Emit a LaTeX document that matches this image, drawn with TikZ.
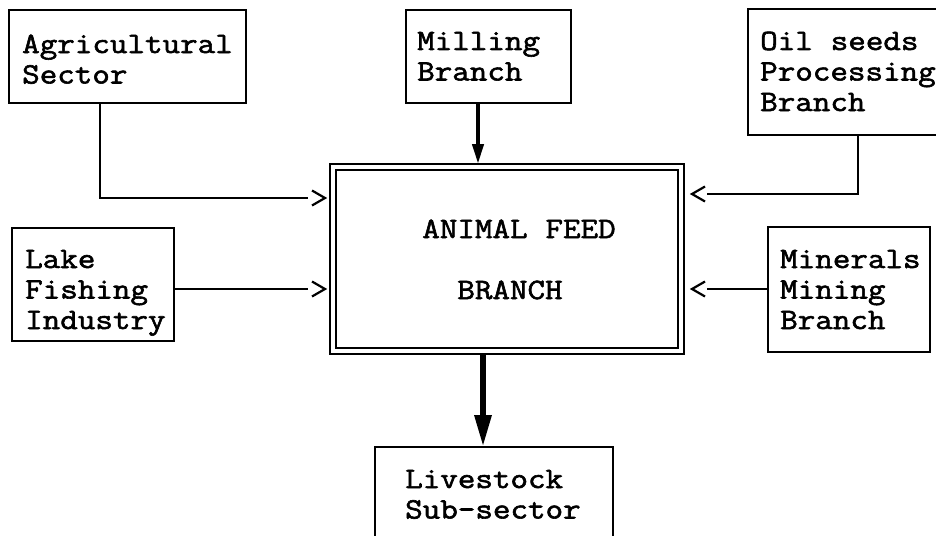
\documentclass[tikz,border=0pt]{standalone}
\usepackage{fontspec}
\newfontfamily\tw[FakeBold=2,FakeStretch=1.155]{Latin Modern Mono}
\usetikzlibrary{arrows.meta,calc}
\begin{document}
\begin{tikzpicture}[x=1pt,y=-1pt,
  box/.style={draw,line width=2pt,rectangle,inner sep=0pt,outer sep=0pt,anchor=north west},
  txt/.style={font=\tw\fontsize{29.5}{30.5}\selectfont,execute at begin node={\spaceskip=17.9pt\relax},inner sep=0pt,anchor=base west,text width=300pt,align=left},
  ctxt/.style={font=\tw\fontsize{29.5}{30.5}\selectfont,execute at begin node={\spaceskip=17.9pt\relax},inner sep=0pt,anchor=base},
  conn/.style={line width=2pt},
  chev/.style={line width=2.2pt,line join=miter},
  thickarrow/.style={line width=4pt,-{Triangle[length=20pt,width=11pt]}},
  bigarrow/.style={line width=6pt,-{Triangle[length=32pt,width=16pt]}}]
\useasboundingbox (0,0) rectangle (936,535);
\clip (0,0) rectangle (936,535);
% boxes
\node[box,minimum width=237pt,minimum height=93pt] (agri) at (9,10) {};
\node[box,minimum width=165pt,minimum height=93pt] (mill) at (406,10) {};
\node[box,minimum width=212pt,minimum height=126pt] (oil) at (748,9) {};
\node[box,minimum width=162pt,minimum height=113pt] (lake) at (12,228) {};
\node[box,minimum width=162pt,minimum height=125pt] (mine) at (768,227) {};
\node[box,minimum width=238pt,minimum height=113pt] (live) at (375,447) {};
\node[box,double,double distance=4pt,minimum width=348pt,minimum height=184pt] (cb) at (333,167) {};
% texts
\node[txt] (agrit) at (22,53) {Agricultural\\Sector};
\node[txt] (millt) at (417,50) {Milling\\Branch};
\node[txt] (oilt) at (760,50) {Oil seeds\\Processing\\Branch};
\node[txt] (laket) at (25,268) {Lake\\Fishing\\Industry};
\node[txt] (minet) at (780,268) {Minerals\\Mining\\Branch};
\node[txt] (livet) at (405,488) {Livestock\\Sub-sector};
\node[ctxt] (cbt1) at (519,238) {ANIMAL FEED};
\node[ctxt] (cbt2) at (510,299) {BRANCH};
% helper coordinates
\coordinate (agrij) at (100,198);
\coordinate (oilj) at (858,194);
\coordinate (midy) at (0,289);
\coordinate (millx) at (478,0);
\coordinate (livex) at (483,0);
% connectors
\draw[conn] (agri.south -| agrij) |- ($(cb.west |- agrij)+(-25,0)$);
\draw[chev] ($(cb.west |- agrij)+(-21,-7.5)$) -- ($(cb.west |- agrij)+(-8,0)$) -- ($(cb.west |- agrij)+(-21,7.5)$);
\draw[conn] (lake.east |- midy) -- ($(cb.west |- midy)+(-25,0)$);
\draw[chev] ($(cb.west |- midy)+(-21,-7.5)$) -- ($(cb.west |- midy)+(-8,0)$) -- ($(cb.west |- midy)+(-21,7.5)$);
\draw[conn] (oil.south -| oilj) |- ($(cb.east |- oilj)+(26,0)$);
\draw[chev] ($(cb.east |- oilj)+(24,-7.5)$) -- ($(cb.east |- oilj)+(11,0)$) -- ($(cb.east |- oilj)+(24,7.5)$);
\draw[conn] (mine.west |- midy) -- ($(cb.east |- midy)+(26,0)$);
\draw[chev] ($(cb.east |- midy)+(24,-7.5)$) -- ($(cb.east |- midy)+(11,0)$) -- ($(cb.east |- midy)+(24,7.5)$);
\draw[thickarrow] (mill.south -| millx) -- ($(cb.north -| millx)+(0,-3)$);
\draw[bigarrow] ($(cb.south -| livex)+(0,2)$) -- (live.north -| livex);
\end{tikzpicture}
\end{document}
